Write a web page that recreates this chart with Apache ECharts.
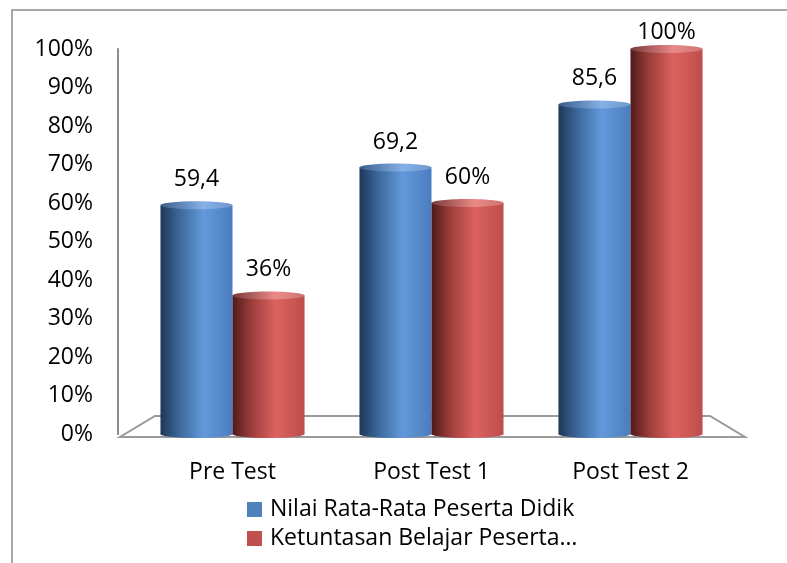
<!DOCTYPE html>
<html>
<head>
<meta charset="utf-8">
<script src="https://cdn.jsdelivr.net/npm/echarts@6/dist/echarts.min.js"></script>
<style>
  html, body { margin: 0; padding: 0; background: #fff; }
  #chart { width: 787px; height: 563px; }
</style>
</head>
<body>
<div id="chart"></div>
<script>
// Categories and series values
const categories = ['Pre Test', 'Post Test 1', 'Post Test 2'];
const nilaiRataRata = [59.4, 69.2, 85.6];
const ketuntasanBelajar = [36, 60, 100];
const seriesNames = ['Nilai Rata-Rata Peserta Didik', 'Ketuntasan Belajar Peserta…'];
const yTickValues = [0, 10, 20, 30, 40, 50, 60, 70, 80, 90, 100];

const FONT = '"Open Sans", "Noto Sans", sans-serif';
const FS = 23;

// Cylinder-shaped bar drawn on the category/value scales
function cylinder(side, stops, topStops, fmt) {
  return function (params, api) {
    const ci = api.value(0);
    const v = api.value(1);
    const top = api.coord([ci, v]);
    const base = api.coord([ci, 0]);
    const band = api.size([1, 0])[0];
    const w = band * 0.362;
    const cx = top[0] + side * w / 2;
    const x0 = cx - w / 2;
    const ry = 4;
    const body = new echarts.graphic.LinearGradient(0, 0, 1, 0, stops);
    const cap = new echarts.graphic.LinearGradient(0, 0, 1, 0, topStops);
    // keep the value label inside the chart area
    const labelY = Math.max(top[1] - 14, params.coordSys.y - 5);
    return {
      type: 'group',
      children: [
        { type: 'ellipse', shape: { cx: cx, cy: base[1], rx: w / 2, ry: ry }, style: { fill: body } },
        { type: 'rect', shape: { x: x0, y: top[1], width: w, height: base[1] - top[1] }, style: { fill: body } },
        { type: 'ellipse', shape: { cx: cx, cy: top[1], rx: w / 2, ry: ry }, style: { fill: cap } },
        {
          type: 'text', x: cx, y: labelY,
          style: { text: fmt(v), align: 'center', verticalAlign: 'bottom', font: FS + 'px ' + FONT, fill: '#000' }
        }
      ]
    };
  };
}

const blueStops = [
  { offset: 0, color: '#1d3757' },
  { offset: 0.25, color: '#3b6699' },
  { offset: 0.6, color: '#6399da' },
  { offset: 1, color: '#4a7dbf' }
];
const blueTop = [
  { offset: 0, color: '#3a5f8c' },
  { offset: 0.6, color: '#86b0e6' },
  { offset: 1, color: '#6f97cc' }
];
const redStops = [
  { offset: 0, color: '#4f1a1a' },
  { offset: 0.25, color: '#9a3c3a' },
  { offset: 0.6, color: '#dc625f' },
  { offset: 1, color: '#bd4e4b' }
];
const redTop = [
  { offset: 0, color: '#7a3a3a' },
  { offset: 0.6, color: '#ea8a87' },
  { offset: 1, color: '#cf7470' }
];

// Floor plane under the bars, derived from the grid rectangle
function floor(params, api) {
  const cs = params.coordSys;
  const by = api.coord([0, 0])[1];
  const left = cs.x, right = cs.x + cs.width;
  const pts = [
    [left - 13, by + 3],
    [right + 15, by + 3],
    [right - 20, by - 18],
    [left + 22, by - 18]
  ];
  return {
    type: 'polygon',
    shape: { points: pts },
    style: { fill: '#fff', stroke: '#9a9a9a', lineWidth: 2 }
  };
}

const chart = echarts.init(document.getElementById('chart'));
chart.setOption({
  animation: false,
  backgroundColor: '#fff',
  graphic: [{
    type: 'rect', z: -10, silent: true,
    shape: { x: 12, y: 10, width: 800, height: 600 },
    style: { fill: 'none', stroke: '#8c8c8c', lineWidth: 1.5 }
  }],
  grid: { left: 133, right: 57, top: 49, bottom: 129 },
  legend: {
    orient: 'vertical',
    left: 247, top: 498, padding: 0,
    itemWidth: 15, itemHeight: 15, itemGap: 6,
    textStyle: { fontFamily: FONT, fontSize: FS, color: '#000', padding: [0, 0, 0, 3] },
    data: [
      { name: seriesNames[0], icon: 'rect' },
      { name: seriesNames[1], icon: 'rect' }
    ]
  },
  xAxis: {
    type: 'category',
    data: categories,
    axisLine: { show: false },
    axisTick: { show: false },
    axisLabel: { margin: 27, fontFamily: FONT, fontSize: FS, color: '#000' }
  },
  yAxis: {
    type: 'value',
    min: yTickValues[0],
    max: yTickValues[yTickValues.length - 1],
    interval: yTickValues[1] - yTickValues[0],
    offset: 15,
    splitLine: { show: false },
    axisTick: { show: false },
    axisLine: { show: true, lineStyle: { color: '#8c8c8c', width: 2 } },
    axisLabel: { margin: 25, fontFamily: FONT, fontSize: FS, color: '#000', formatter: '{value}%' }
  },
  series: [
    {
      type: 'custom', name: 'floor', silent: true, z: 1,
      renderItem: floor,
      data: [[0, 0]],
      encode: { x: 0, y: 1 }
    },
    {
      type: 'custom', name: seriesNames[0], z: 3,
      itemStyle: { color: '#4f81bd' },
      renderItem: cylinder(-1, blueStops, blueTop, v => v.toFixed(1).replace('.', ',')),
      data: nilaiRataRata.map((v, i) => [i, v]),
      encode: { x: 0, y: 1 }
    },
    {
      type: 'custom', name: seriesNames[1], z: 3,
      itemStyle: { color: '#c0504d' },
      renderItem: cylinder(1, redStops, redTop, v => v + '%'),
      data: ketuntasanBelajar.map((v, i) => [i, v]),
      encode: { x: 0, y: 1 }
    }
  ]
});
</script>
</body>
</html>
